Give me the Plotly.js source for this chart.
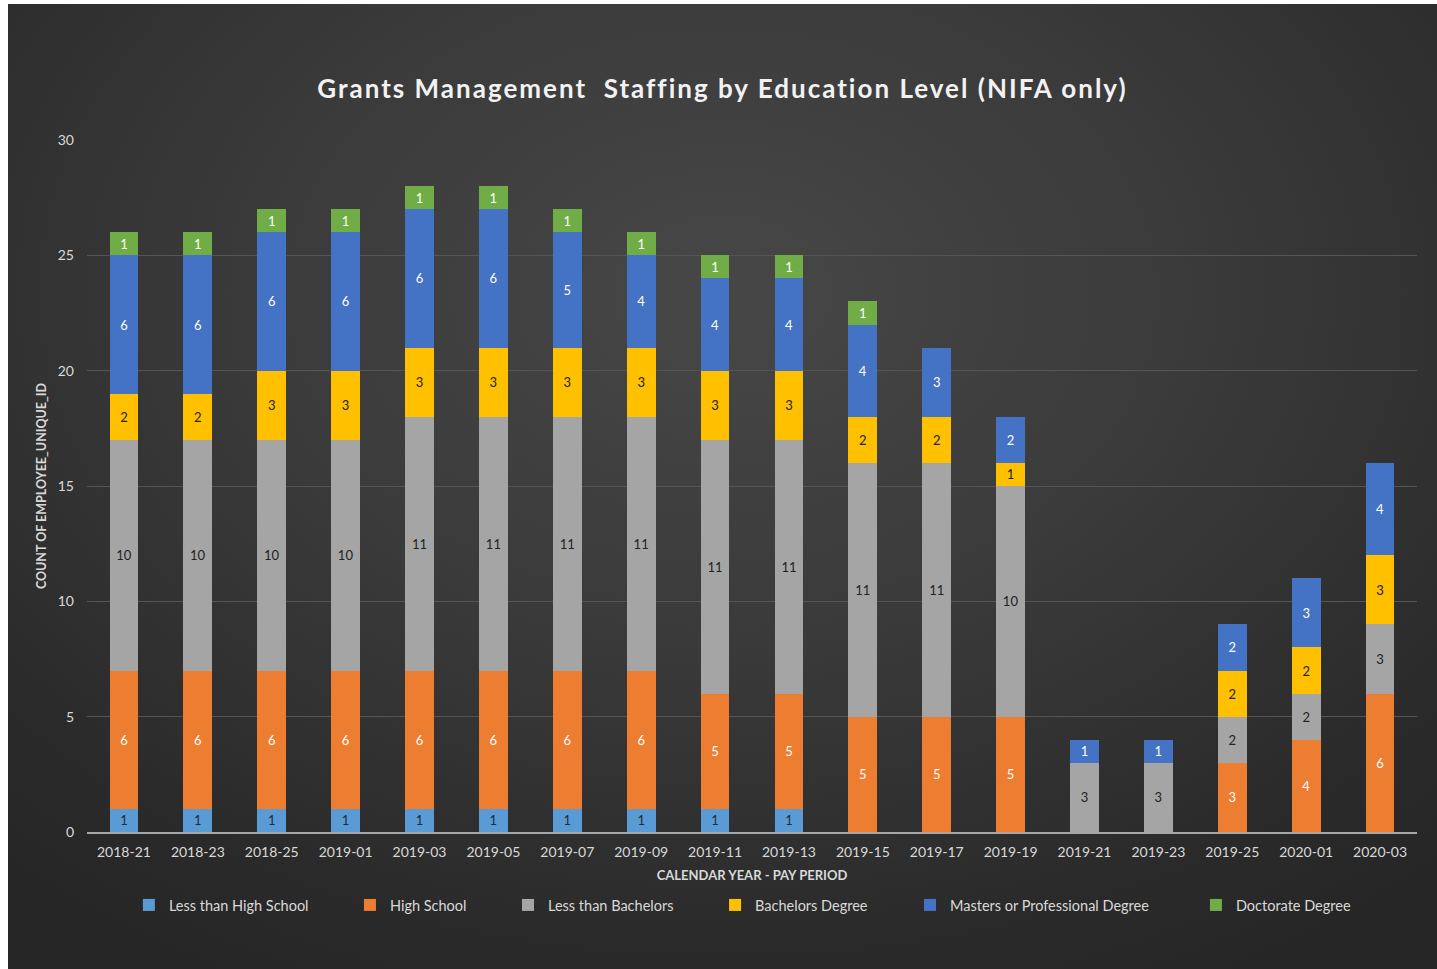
<!DOCTYPE html>
<html>
<head>
<meta charset="utf-8">
<script src="https://cdn.plot.ly/plotly-3.0.1.min.js"></script>
<style>
  html, body { margin: 0; padding: 0; background: #ffffff; width: 1437px; height: 969px; overflow: hidden; }
  #chart {
    position: absolute; left: 8px; top: 4px; width: 1429px; height: 965px;
    background: radial-gradient(ellipse 75% 80% at 50% 30%, #474747 0%, #3a3a3a 45%, #2a2a2a 85%, #262626 100%);
  }
  .gtitle { letter-spacing: 2px; }
</style>
</head>
<body>
<div id="chart"></div>
<script>
const periods = ["2018-21","2018-23","2018-25","2019-01","2019-03","2019-05","2019-07","2019-09","2019-11","2019-13","2019-15","2019-17","2019-19","2019-21","2019-23","2019-25","2020-01","2020-03"];

const lessThanHighSchool = [1,1,1,1,1,1,1,1,1,1,null,null,null,null,null,null,null,null];
const highSchool         = [6,6,6,6,6,6,6,6,5,5,5,5,5,null,null,3,4,6];
const lessThanBachelors  = [10,10,10,10,11,11,11,11,11,11,11,11,10,3,3,2,2,3];
const bachelorsDegree    = [2,2,3,3,3,3,3,3,3,3,2,2,1,null,null,2,2,3];
const mastersDegree      = [6,6,6,6,6,6,5,4,4,4,4,3,2,1,1,2,3,4];
const doctorateDegree    = [1,1,1,1,1,1,1,1,1,1,1,null,null,null,null,null,null,null];

const seriesNames = ["Less than High School","High School","Less than Bachelors","Bachelors Degree","Masters or Professional Degree","Doctorate Degree"];
const seriesValues = [lessThanHighSchool, highSchool, lessThanBachelors, bachelorsDegree, mastersDegree, doctorateDegree];
const seriesColors = ["#5b9bd5","#ed7d31","#a5a5a5","#ffc000","#4472c4","#70ad47"];
const labelColors  = ["#1f2a3a","#ffffff","#222222","#222222","#ffffff","#ffffff"];

const FONT = "Lato, 'Open Sans', sans-serif";
// legend item positions (container fraction)
const legendX = [0.0846, 0.2393, 0.3499, 0.4948, 0.6312, 0.8313];

const traces = seriesNames.map((name, i) => ({
  type: "bar",
  name: name,
  x: periods,
  y: seriesValues[i],
  marker: { color: seriesColors[i], line: { width: 0 } },
  text: seriesValues[i].map(v => v == null ? "" : String(v)),
  textposition: "inside",
  insidetextanchor: "middle",
  textangle: 0,
  constraintext: "none",
  textfont: { family: FONT, size: 13, color: labelColors[i] },
  hoverinfo: "x+y+name",
  legend: i === 0 ? "legend" : "legend" + (i + 1)
}));

const legendBase = {
  orientation: "h",
  xref: "container", yref: "container",
  xanchor: "left", yanchor: "middle",
  y: 1 - 901/965,
  bgcolor: "rgba(0,0,0,0)",
  borderwidth: 0,
  itemwidth: 30,
  font: { family: FONT, size: 14.5, color: "#d9d9d9" }
};

const layout = {
  width: 1429, height: 965,
  paper_bgcolor: "rgba(0,0,0,0)",
  plot_bgcolor: "rgba(0,0,0,0)",
  margin: { l: 79, r: 20, t: 136, b: 137 },
  barmode: "stack",
  bargap: 0.61,
  font: { family: FONT, color: "#d9d9d9" },
  title: {
    text: "Grants Management  Staffing by Education Level (NIFA only)",
    font: { family: FONT, size: 26, color: "#f2f2f2", weight: "bold" },
    x: 0.5, xanchor: "center",
    yref: "container", y: 1 - 85/965, yanchor: "middle"
  },
  xaxis: {
    type: "category",
    showgrid: false,
    showline: true, linecolor: "#a6a6a6", linewidth: 1.5,
    ticks: "",
    ticklabelstandoff: 6,
    tickfont: { family: FONT, size: 14, color: "#d9d9d9" },
    title: { text: "CALENDAR YEAR - PAY PERIOD", standoff: 12,
             font: { family: FONT, size: 13, color: "#d9d9d9", weight: "bold" } },
    automargin: false
  },
  yaxis: {
    range: [0, 30], dtick: 5,
    showgrid: true, gridcolor: "#555555", gridwidth: 1,
    zeroline: false, showline: false,
    ticks: "",
    ticklabelstandoff: 12,
    tickfont: { family: FONT, size: 14, color: "#d9d9d9" },
    title: { text: "COUNT OF EMPLOYEE_UNIQUE_ID", standoff: 8,
             font: { family: FONT, size: 12.5, color: "#d9d9d9", weight: "bold" } },
    automargin: false
  },
  showlegend: true
};

layout.legend = Object.assign({}, legendBase, { x: legendX[0] });
for (let i = 1; i < 6; i++) {
  layout["legend" + (i + 1)] = Object.assign({}, legendBase, { x: legendX[i] });
}

Plotly.newPlot("chart", traces, layout, { displayModeBar: false, staticPlot: false });
</script>
</body>
</html>
